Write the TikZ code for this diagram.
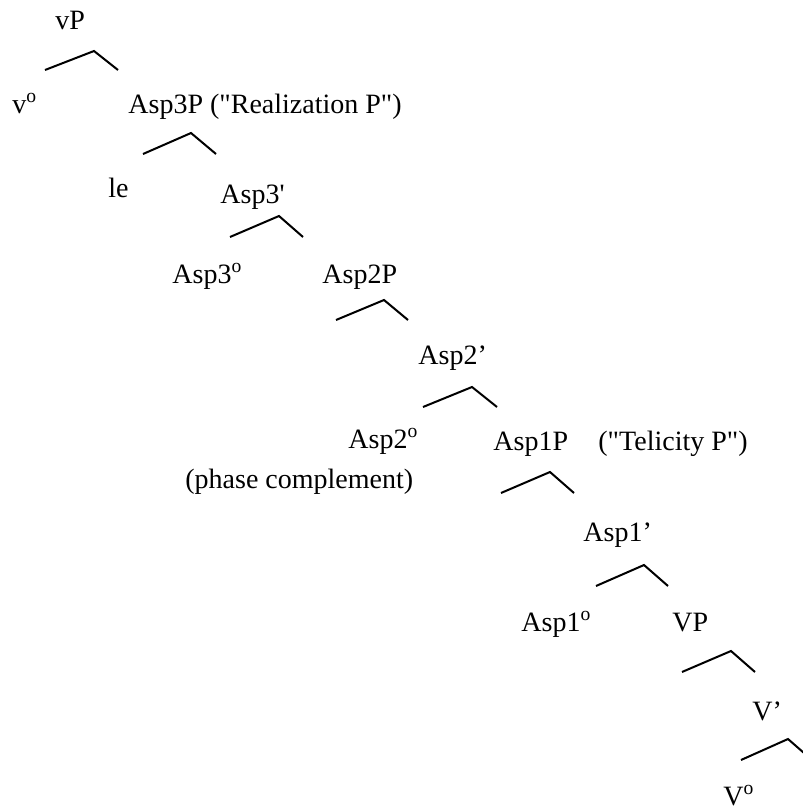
\documentclass[tikz,border=0pt]{standalone}
\usepackage{fontspec}
\setmainfont{Liberation Serif}
\newcommand{\headmark}{\textsuperscript{o}}
\tikzset{
    cat/.style={anchor=base west, inner sep=0pt, font=\fontsize{14}{16}\selectfont},
    branch/.style={line width=1pt, line join=miter, draw=black}
}

\begin{document}
\begin{tikzpicture}[x=0.5pt, y=-0.5pt]
        \clip (0,0) rectangle (803,809);

        % labels
        \node[cat] (vp) at (55,29) {vP};
        \node[cat] (vo) at (12,113) {v\headmark};
        \node[cat] (asp3p) at (128,113) {Asp3P (\textquotedbl Realization P\textquotedbl)};
        \node[cat] (le) at (108,197) {le};
        \node[cat] (asp3bar) at (220,203) {Asp3\textquotesingle};
        \node[cat] (asp3o) at (172,283) {Asp3\headmark};
        \node[cat] (asp2p) at (322,283) {Asp2P};
        \node[cat] (asp2bar) at (418,364) {Asp2'};
        \node[cat] (asp2o) at (348,448) {Asp2\headmark};
        \node[cat] (phase) at (185,488) {(phase complement)};
        \node[cat] (asp1p) at (493,450) {Asp1P};
        \node[cat] (telicity) at (598,450) {(\textquotedbl Telicity P\textquotedbl)};
        \node[cat] (asp1bar) at (583,541) {Asp1'};
        \node[cat] (asp1o) at (521,631) {Asp1\headmark};
        \node[cat] (vpp) at (672,631) {VP};
        \node[cat] (vbar) at (752,720) {V'};
        \node[cat] (vzero) at (723,805) {V\headmark};

        % branch points
        \coordinate (b1) at (94,51);   \coordinate (b1l) at (45,70);   \coordinate (b1r) at (118,70);
        \coordinate (b2) at (191,133); \coordinate (b2l) at (143,154); \coordinate (b2r) at (216,154);
        \coordinate (b3) at (279,216); \coordinate (b3l) at (230,237); \coordinate (b3r) at (303,237);
        \coordinate (b4) at (384,300); \coordinate (b4l) at (336,320); \coordinate (b4r) at (408,320);
        \coordinate (b5) at (472,387); \coordinate (b5l) at (423,407); \coordinate (b5r) at (497,407);
        \coordinate (b6) at (550,472); \coordinate (b6l) at (501,493); \coordinate (b6r) at (574,493);
        \coordinate (b7) at (644,565); \coordinate (b7l) at (596,586); \coordinate (b7r) at (668,586);
        \coordinate (b8) at (731,651); \coordinate (b8l) at (682,672); \coordinate (b8r) at (755,672);
        \coordinate (b9) at (788,739); \coordinate (b9l) at (741,760); \coordinate (b9r) at (812,760);

        \draw[branch] (b1l) -- (b1) -- (b1r);
        \draw[branch] (b2l) -- (b2) -- (b2r);
        \draw[branch] (b3l) -- (b3) -- (b3r);
        \draw[branch] (b4l) -- (b4) -- (b4r);
        \draw[branch] (b5l) -- (b5) -- (b5r);
        \draw[branch] (b6l) -- (b6) -- (b6r);
        \draw[branch] (b7l) -- (b7) -- (b7r);
        \draw[branch] (b8l) -- (b8) -- (b8r);
        \draw[branch] (b9l) -- (b9) -- (b9r);
      \end{tikzpicture}
\end{document}
